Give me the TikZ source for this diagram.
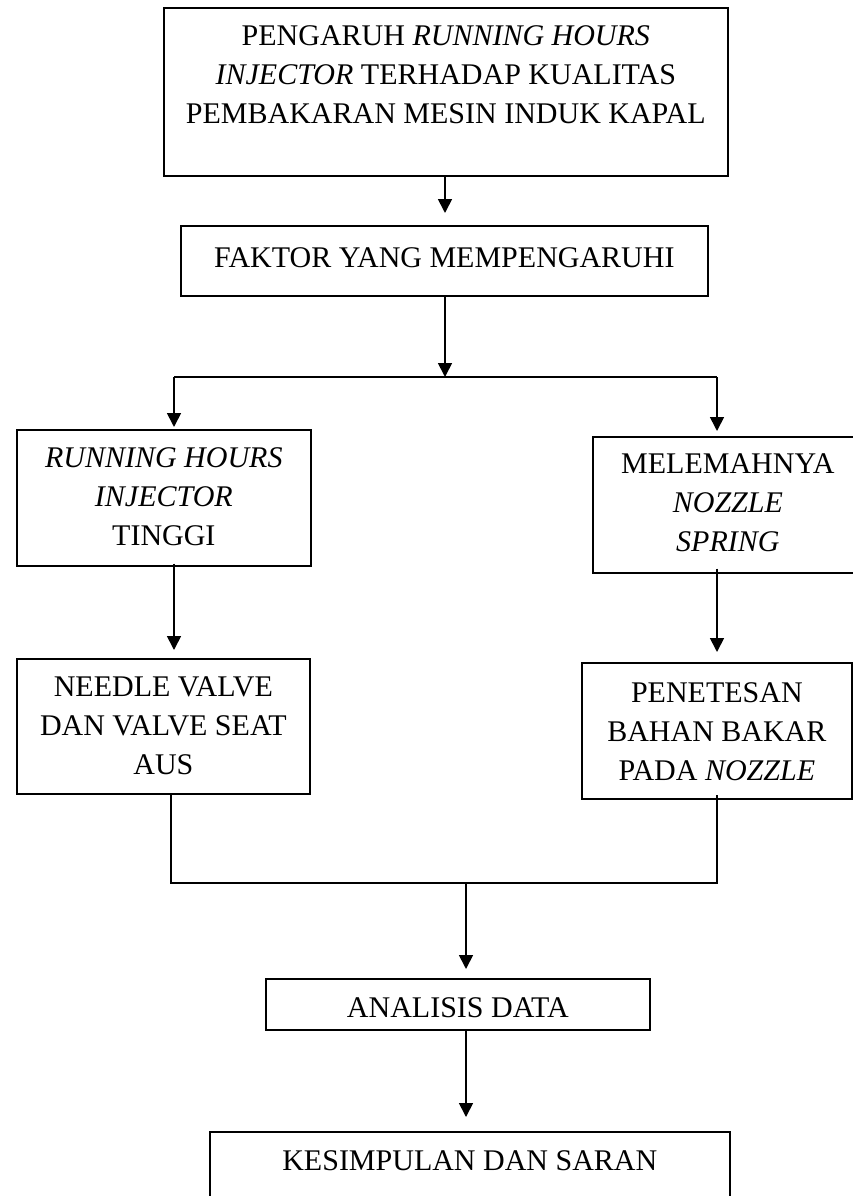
\documentclass[tikz,border=0pt]{standalone}
\usepackage{fontspec}
\setmainfont{Liberation Serif}
\usetikzlibrary{arrows.meta}
\newcommand\boxtxt[4]{\parbox[c][#2][t]{#1}{\centering\rule{0pt}{#3}#4}}
\tikzset{
  flowbox/.style={draw, line width=1.7pt, inner sep=0pt, anchor=north west,
    font=\fontsize{30pt}{39pt}\selectfont},
  conn/.style={line width=1.7pt},
  arr/.style={line width=1.7pt, -{Triangle[width=14pt,length=14pt]}}
}
\begin{document}
\begin{tikzpicture}[x=1pt,y=-1pt]
\useasboundingbox (0,0) rectangle (853,1196);
% boxes
\node[flowbox] (top) at (163,7) {\boxtxt{564pt}{168pt}{38pt}{PENGARUH \textit{RUNNING HOURS}\\\textit{INJECTOR} TERHADAP KUALITAS\\PEMBAKARAN MESIN INDUK KAPAL}};
\node[flowbox] (faktor) at (180,225) {\boxtxt{527pt}{70pt}{42pt}{FAKTOR YANG MEMPENGARUHI}};
\node[flowbox] (left1) at (16,429) {\boxtxt{294pt}{136pt}{38pt}{\textit{RUNNING HOURS}\\\textit{INJECTOR}\\TINGGI}};
\node[flowbox] (right1) at (592,436) {\boxtxt{270pt}{136pt}{37pt}{MELEMAHNYA\\\textit{NOZZLE}\\\textit{SPRING}}};
\node[flowbox] (left2) at (16,658) {\boxtxt{293pt}{135pt}{38pt}{NEEDLE VALVE\\DAN VALVE SEAT\\AUS}};
\node[flowbox] (right2) at (581,662) {\boxtxt{270pt}{136pt}{40pt}{PENETESAN\\BAHAN BAKAR\\PADA \textit{NOZZLE}}};
\node[flowbox] (analisis) at (265,978) {\boxtxt{384pt}{51pt}{39pt}{ANALISIS DATA}};
\node[flowbox] (kesimpulan) at (209,1131) {\boxtxt{520pt}{100pt}{39pt}{KESIMPULAN DAN SARAN}};
% junction coordinates
\coordinate (jm) at (445,377);
\coordinate (jl) at (174,377);
\coordinate (jr) at (717,377);
\coordinate (bl) at (171,883);
\coordinate (br) at (717,883);
\coordinate (bm) at (466,883);
% connectors
\draw[arr, shorten >=12pt] (top.south -| jm) -- (faktor.north -| jm);
\draw[arr] (faktor.south -| jm) -- (jm);
\draw[conn] (jl) -- (jr);
\draw[arr, shorten >=2pt] (jl) -- (jl |- left1.north);
\draw[arr, shorten >=5pt] (jr) -- (jr |- right1.north);
\draw[arr, shorten <=-3pt, shorten >=8pt] (left1.south -| jl) -- (left2.north -| jl);
\draw[arr, shorten <=-5pt, shorten >=10pt] (right1.south -| jr) -- (right2.north -| jr);
\draw[conn] (left2.south -| bl) -- (bl) -- (br) -- ([yshift=5pt]right2.south -| br);
\draw[arr, shorten >=9pt] (bm) -- (analisis.north -| bm);
\draw[arr, shorten >=14pt] (analisis.south -| bm) -- (kesimpulan.north -| bm);
\end{tikzpicture}
\end{document}
